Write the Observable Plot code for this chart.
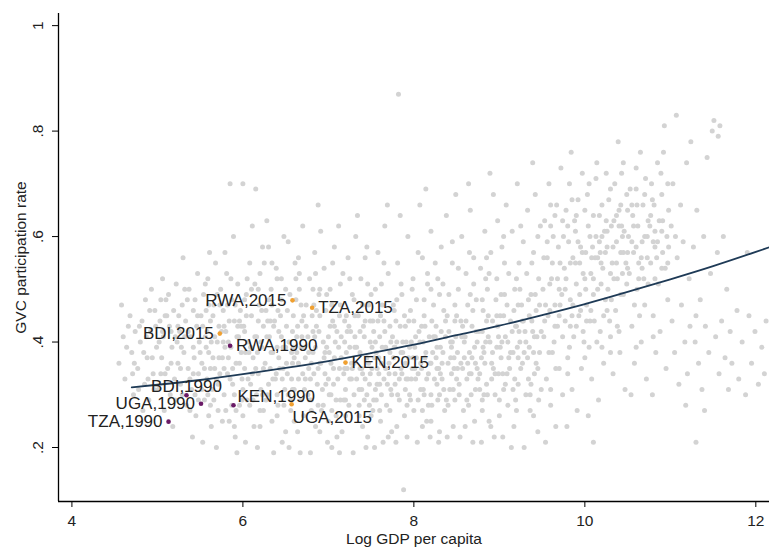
<!DOCTYPE html>
<html>
<head>
<meta charset="utf-8">
<script src="https://cdn.jsdelivr.net/npm/d3@7"></script>
<script src="https://cdn.jsdelivr.net/npm/@observablehq/plot@0.6"></script>
<style>
  html, body { margin: 0; padding: 0; background: #fff; }
  #chart svg { display: block; }
</style>
</head>
<body>
<div id="chart"></div>
<script>
// Axis ticks
const xTicks = [4, 6, 8, 10, 12];
const yTicks = [0.2, 0.4, 0.6, 0.8, 1];

// Background cloud: all country-year observations [log GDP per capita, GVC participation]
const cloud = [
[4.55,.36],[4.6,.41],[4.62,.33],[4.68,.45],[4.7,.38],[4.72,.30],[4.74,.42],[4.58,.47],
[4.77,.35],[4.8,.40],[4.82,.44],[4.85,.32],[4.86,.48],[4.88,.37],[4.9,.29],[4.92,.42],[4.95,.34],[4.97,.46],[4.99,.39],[4.83,.27],[4.93,.50],
[5.01,.31],[5.03,.44],[5.05,.37],[5.07,.41],[5.08,.27],[5.1,.48],[5.12,.35],[5.14,.43],[5.15,.30],[5.17,.39],[5.19,.46],[5.2,.33],[5.22,.51],[5.23,.40],[5.24,.36],[5.06,.52],[5.18,.24],[5.11,.45],
[5.26,.42],[5.27,.32],[5.29,.47],[5.3,.56],[5.31,.38],[5.33,.44],[5.34,.28],[5.36,.35],[5.37,.50],[5.39,.41],[5.4,.31],[5.42,.46],[5.43,.37],[5.45,.26],[5.46,.43],[5.47,.53],[5.48,.34],[5.49,.40],[5.28,.39],[5.41,.22],[5.35,.48],[5.44,.30],
[5.51,.45],[5.52,.36],[5.54,.49],[5.55,.29],[5.56,.41],[5.58,.33],[5.59,.52],[5.6,.38],[5.62,.44],[5.63,.24],[5.64,.31],[5.66,.47],[5.67,.35],[5.68,.55],[5.7,.40],[5.71,.27],[5.72,.43],[5.73,.34],[5.74,.50],[5.53,.21],[5.61,.57],[5.69,.20],[5.57,.39],[5.65,.37],
[5.76,.37],[5.77,.46],[5.78,.30],[5.8,.42],[5.81,.53],[5.82,.34],[5.84,.25],[5.85,.70],[5.86,.39],[5.87,.48],[5.88,.32],[5.9,.44],[5.91,.22],[5.92,.36],[5.94,.51],[5.95,.41],[5.96,.28],[5.97,.46],[5.99,.33],[5.79,.57],[5.89,.60],[5.98,.38],[5.83,.40],[5.93,.19],
[6.0,.70],[6.01,.43],[6.02,.35],[6.04,.49],[6.05,.29],[6.06,.40],[6.08,.55],[6.09,.32],[6.1,.45],[6.12,.37],[6.13,.24],[6.14,.51],[6.15,.69],[6.16,.41],[6.18,.34],[6.19,.47],[6.2,.27],[6.22,.39],[6.23,.58],[6.24,.43],[6.03,.21],[6.11,.62],[6.17,.20],[6.21,.31],[6.07,.38],[6.2,.53],
[6.26,.36],[6.27,.46],[6.29,.30],[6.3,.58],[6.31,.41],[6.33,.50],[6.34,.25],[6.35,.38],[6.37,.44],[6.38,.33],[6.39,.54],[6.41,.28],[6.42,.42],[6.43,.35],[6.45,.48],[6.46,.21],[6.47,.39],[6.48,.60],[6.49,.31],[6.28,.63],[6.36,.19],[6.44,.45],[6.32,.35],[6.4,.52],
[6.51,.43],[6.52,.34],[6.53,.59],[6.55,.49],[6.56,.27],[6.57,.38],[6.59,.45],[6.6,.31],[6.61,.55],[6.63,.41],[6.64,.23],[6.65,.36],[6.66,.50],[6.68,.29],[6.69,.44],[6.7,.62],[6.72,.39],[6.73,.33],[6.74,.47],[6.54,.20],[6.62,.52],[6.67,.19],[6.58,.42],[6.71,.26],[6.6,.37],
[6.76,.41],[6.77,.35],[6.78,.52],[6.8,.29],[6.81,.45],[6.82,.38],[6.84,.57],[6.85,.24],[6.86,.43],[6.87,.32],[6.89,.49],[6.9,.36],[6.91,.61],[6.92,.27],[6.94,.40],[6.95,.54],[6.96,.34],[6.97,.46],[6.99,.21],[6.79,.19],[6.88,.66],[6.93,.31],[6.83,.47],[6.98,.39],[6.8,.36],
[7.01,.38],[7.02,.50],[7.03,.30],[7.05,.44],[7.06,.35],[7.07,.58],[7.09,.26],[7.1,.42],[7.11,.33],[7.12,.62],[7.14,.47],[7.15,.37],[7.16,.23],[7.17,.53],[7.19,.40],[7.2,.31],[7.21,.45],[7.22,.35],[7.24,.28],[7.04,.20],[7.13,.19],[7.23,.56],[7.08,.40],[7.18,.34],[7.14,.29],[7.0,.33],
[7.26,.42],[7.27,.36],[7.28,.49],[7.3,.30],[7.31,.39],[7.32,.60],[7.33,.33],[7.35,.45],[7.36,.26],[7.37,.38],[7.38,.52],[7.4,.34],[7.41,.43],[7.42,.29],[7.43,.56],[7.45,.37],[7.46,.22],[7.47,.47],[7.48,.32],[7.49,.40],[7.29,.19],[7.34,.64],[7.44,.20],[7.39,.31],[7.28,.35],[7.47,.36],
[7.51,.35],[7.52,.44],[7.53,.29],[7.55,.50],[7.56,.38],[7.57,.32],[7.58,.57],[7.6,.41],[7.61,.25],[7.62,.36],[7.63,.47],[7.65,.33],[7.66,.62],[7.67,.39],[7.68,.28],[7.7,.53],[7.71,.36],[7.72,.43],[7.73,.31],[7.74,.23],[7.54,.20],[7.64,.21],[7.69,.66],[7.59,.34],[7.72,.38],[7.62,.30],[7.55,.40],
[7.76,.37],[7.77,.46],[7.78,.32],[7.8,.40],[7.81,.55],[7.82,.87],[7.83,.29],[7.85,.35],[7.86,.49],[7.87,.38],[7.88,.12],[7.89,.26],[7.9,.43],[7.91,.33],[7.93,.60],[7.94,.37],[7.95,.30],[7.96,.46],[7.98,.35],[7.99,.52],[7.79,.21],[7.92,.22],[7.84,.64],[7.97,.40],[7.86,.34],[7.78,.39],[7.9,.31],
[8.01,.39],[8.02,.33],[8.03,.48],[8.05,.29],[8.06,.42],[8.07,.66],[8.08,.36],[8.1,.56],[8.11,.31],[8.12,.45],[8.13,.37],[8.15,.25],[8.16,.51],[8.17,.34],[8.18,.41],[8.2,.61],[8.21,.28],[8.22,.38],[8.23,.47],[8.24,.33],[8.04,.21],[8.14,.69],[8.19,.22],[8.09,.35],[8.2,.36],[8.0,.44],[8.12,.30],
[8.26,.43],[8.27,.35],[8.28,.52],[8.3,.30],[8.31,.39],[8.32,.58],[8.33,.33],[8.35,.46],[8.36,.27],[8.37,.41],[8.38,.64],[8.4,.36],[8.41,.49],[8.42,.31],[8.43,.40],[8.45,.55],[8.46,.24],[8.47,.37],[8.48,.44],[8.49,.68],[8.29,.21],[8.39,.22],[8.44,.34],[8.34,.38],[8.27,.32],[8.48,.29],
[8.51,.38],[8.52,.50],[8.53,.32],[8.55,.44],[8.56,.60],[8.57,.35],[8.58,.27],[8.6,.41],[8.61,.53],[8.62,.33],[8.63,.47],[8.65,.38],[8.66,.65],[8.67,.30],[8.68,.43],[8.7,.56],[8.71,.25],[8.72,.36],[8.73,.48],[8.74,.40],[8.54,.22],[8.64,.70],[8.69,.21],[8.59,.37],[8.72,.31],[8.5,.45],
[8.76,.42],[8.77,.34],[8.78,.54],[8.8,.29],[8.81,.46],[8.82,.38],[8.83,.61],[8.85,.32],[8.86,.50],[8.87,.41],[8.88,.25],[8.9,.57],[8.91,.36],[8.92,.44],[8.93,.68],[8.95,.30],[8.96,.48],[8.97,.39],[8.98,.63],[8.99,.34],[8.79,.21],[8.89,.72],[8.94,.22],[8.84,.40],[8.97,.52],
[9.01,.45],[9.02,.37],[9.03,.58],[9.05,.31],[9.06,.49],[9.07,.41],[9.08,.66],[9.1,.28],[9.11,.53],[9.12,.35],[9.13,.44],[9.15,.61],[9.16,.38],[9.17,.24],[9.18,.50],[9.2,.43],[9.21,.70],[9.22,.32],[9.23,.55],[9.24,.40],[9.04,.22],[9.14,.20],[9.19,.29],[9.09,.47],[9.22,.47],
[9.26,.47],[9.27,.36],[9.28,.59],[9.3,.42],[9.31,.30],[9.32,.53],[9.33,.65],[9.35,.39],[9.36,.27],[9.37,.49],[9.38,.44],[9.4,.57],[9.41,.34],[9.42,.68],[9.43,.46],[9.45,.23],[9.46,.52],[9.47,.38],[9.48,.62],[9.49,.31],[9.29,.20],[9.39,.74],[9.44,.41],[9.34,.48],
[9.51,.50],[9.52,.41],[9.53,.63],[9.55,.33],[9.56,.56],[9.57,.45],[9.58,.70],[9.6,.28],[9.61,.52],[9.62,.38],[9.63,.60],[9.65,.47],[9.66,.24],[9.67,.66],[9.68,.43],[9.7,.35],[9.71,.55],[9.72,.73],[9.73,.49],[9.74,.30],[9.54,.21],[9.64,.40],[9.69,.58],[9.59,.46],
[9.76,.54],[9.77,.44],[9.78,.65],[9.8,.37],[9.81,.59],[9.82,.70],[9.83,.48],[9.85,.31],[9.86,.56],[9.87,.41],[9.88,.63],[9.9,.51],[9.91,.27],[9.92,.67],[9.93,.45],[9.95,.58],[9.96,.35],[9.97,.72],[9.98,.53],[9.99,.40],[9.79,.24],[9.89,.61],[9.94,.49],[9.84,.76],
[10.01,.57],[10.02,.47],[10.03,.68],[10.05,.39],[10.06,.60],[10.07,.53],[10.08,.33],[10.1,.64],[10.11,.44],[10.12,.56],[10.13,.71],[10.15,.50],[10.16,.29],[10.17,.59],[10.18,.42],[10.2,.66],[10.21,.54],[10.22,.36],[10.23,.61],[10.24,.48],[10.04,.26],[10.14,.74],[10.19,.55],[10.09,.58],[10.1,.21],
[10.26,.58],[10.27,.50],[10.28,.67],[10.3,.41],[10.31,.62],[10.32,.55],[10.33,.34],[10.35,.70],[10.36,.46],[10.37,.59],[10.38,.52],[10.4,.65],[10.41,.38],[10.42,.57],[10.43,.72],[10.45,.49],[10.46,.61],[10.47,.31],[10.48,.55],[10.49,.68],[10.29,.44],[10.39,.78],[10.44,.53],[10.34,.63],
[10.51,.60],[10.52,.53],[10.53,.69],[10.55,.43],[10.56,.64],[10.57,.57],[10.58,.36],[10.6,.73],[10.61,.50],[10.62,.62],[10.63,.55],[10.65,.76],[10.66,.40],[10.67,.59],[10.68,.66],[10.7,.47],[10.71,.71],[10.72,.33],[10.73,.56],[10.74,.63],[10.54,.30],[10.64,.45],[10.69,.52],
[10.76,.62],[10.77,.55],[10.78,.70],[10.8,.45],[10.81,.66],[10.82,.58],[10.83,.38],[10.85,.74],[10.86,.51],[10.87,.63],[10.88,.42],[10.9,.68],[10.91,.57],[10.92,.76],[10.93,.81],[10.95,.35],[10.96,.60],[10.97,.48],[10.98,.65],[10.79,.30],[10.89,.72],[10.94,.54],
[11.01,.62],[11.02,.44],[11.03,.70],[11.05,.38],[11.07,.83],[11.08,.56],[11.1,.32],[11.12,.66],[11.13,.47],[11.15,.59],[11.17,.40],[11.19,.74],[11.2,.34],[11.22,.52],[11.24,.78],[11.06,.60],[11.18,.28],[11.23,.43],
[11.27,.58],[11.29,.40],[11.31,.65],[11.33,.36],[11.35,.48],[11.37,.31],[11.39,.60],[11.41,.43],[11.43,.75],[11.45,.38],[11.47,.53],[11.49,.80],[11.3,.45],[11.3,.21],[11.4,.27],
[11.51,.82],[11.53,.41],[11.55,.57],[11.57,.34],[11.58,.81],[11.6,.44],[11.62,.60],[11.64,.37],[11.66,.50],[11.68,.31],[11.7,.42],[11.72,.36],[11.56,.79],
[11.78,.46],[11.8,.33],[11.84,.40],[11.88,.30],[11.92,.45],[11.95,.36],[11.99,.42],[12.03,.32],[12.07,.39],[12.1,.34],[12.12,.44],[11.9,.57],
[5.52,.31],[5.58,.42],[5.66,.29],[5.72,.37],[5.78,.35],[5.84,.44],[5.9,.30],[5.96,.36],[6.02,.42],[6.06,.33],[6.12,.29],[6.18,.44],[6.24,.35],[6.3,.32],[6.36,.43],[6.42,.37],[6.48,.28],[6.54,.40],[6.58,.31],[6.64,.43],[6.7,.34],[6.76,.30],[6.82,.42],[6.88,.35],[6.94,.28],[7.0,.41],[7.06,.32],[7.12,.39],[7.18,.29],[7.24,.43],[7.3,.36],[7.36,.31],[7.42,.41],[7.48,.28],[7.54,.37],[7.6,.32],[7.66,.42],[7.72,.27],[7.78,.34],[7.84,.43],[7.9,.36],[7.96,.29],[8.02,.41],[8.08,.31],[8.14,.38],[8.2,.30],[8.26,.37],[8.32,.42],[8.38,.29],[8.44,.39],[8.5,.33],[8.56,.41],[8.62,.29],[8.68,.37],[8.74,.35],[8.8,.42],[8.86,.30],[8.92,.38],[8.98,.43],[9.04,.34],[9.1,.40],[9.16,.31],[9.22,.37],[9.28,.44],[9.34,.33],[9.4,.38],[9.46,.29],
[5.55,.35],[5.63,.40],[5.69,.33],[5.75,.42],[5.83,.37],[5.87,.28],[5.93,.41],[6.0,.31],[6.09,.39],[6.15,.35],[6.21,.40],[6.27,.29],[6.33,.38],[6.39,.34],[6.45,.41],[6.51,.36],[6.57,.33],[6.63,.38],[6.69,.41],[6.73,.37],[6.79,.33],[6.85,.39],[6.91,.36],[6.97,.32],[7.03,.36],[7.09,.29],[7.15,.41],[7.21,.38],[7.27,.33],[7.33,.39],[7.39,.35],[7.45,.30],[7.51,.39],[7.57,.35],[7.63,.39],[7.69,.32],[7.75,.41],[7.81,.30],[7.87,.40],[7.93,.33],[7.99,.37],[8.05,.34],[8.11,.40],[8.17,.28],[8.23,.41],[8.29,.35],[8.35,.31],[8.41,.42],[8.47,.35],[8.53,.30],[8.59,.40],[8.65,.34],[8.71,.39],[8.77,.31],[8.83,.36],[8.89,.40],[8.95,.34],[9.01,.39],[9.07,.32],[9.13,.38],[9.19,.43],[9.25,.35],[9.31,.40],[9.37,.32],[9.43,.36],[9.49,.42],
[9.52,.56],[9.6,.62],[9.68,.52],[9.75,.60],[9.83,.55],[9.9,.64],[9.97,.57],[10.04,.62],[10.1,.52],[10.17,.64],[10.24,.57],[10.3,.53],[10.37,.64],[10.44,.60],[10.5,.57],[10.57,.62],[10.63,.52],[10.7,.60],[10.77,.64],[10.84,.56],[10.9,.61],[10.97,.55],[10.15,.56],[10.33,.58],[10.55,.66],[10.82,.52],[9.7,.50],[9.85,.45],[10.0,.52],[10.45,.57],
[4.64,.39],[4.71,.34],[4.79,.43],[4.84,.38],[4.91,.46],[4.96,.31],[5.02,.40],[5.09,.34],[5.13,.49],[5.16,.42],[5.21,.29],[5.25,.45],[5.32,.41],[5.38,.33],[5.44,.48],[5.5,.38],[5.57,.46],[5.62,.35],[5.67,.41],[5.73,.47],[5.79,.39],[5.85,.33],[5.91,.47],[5.98,.43],[6.03,.38],[6.1,.50],[6.16,.30],[6.22,.46],[6.28,.41],[6.34,.47],[6.4,.39],[6.46,.33],[6.52,.46],[6.58,.36],[6.62,.48],[6.68,.39],[6.74,.43],[6.78,.29],[6.84,.41],[6.9,.45],[6.96,.38],[7.02,.43],[7.07,.37],[7.13,.45],[7.19,.35],[7.25,.39],[7.31,.45],[7.37,.42],[7.43,.33],[7.49,.44],[7.55,.31],[7.61,.45],[7.67,.35],[7.73,.40],[7.79,.44],[7.85,.38],[7.91,.40],[7.97,.33],[8.03,.37],[8.09,.43],[8.15,.33],[8.21,.44],[8.27,.39],[8.33,.36],[8.39,.45],[8.45,.40],[8.51,.35],[8.57,.43],[8.63,.36],[8.69,.46],[8.75,.33],[8.81,.39],[8.87,.45],[8.93,.35],[8.99,.41],[9.05,.45],[9.11,.37],[9.17,.46],[9.23,.42],[9.29,.38],[9.35,.45],[9.41,.41],[9.47,.47],[9.53,.44],[9.59,.51],[9.65,.43],[9.71,.47],[9.77,.50],[9.83,.43],[9.89,.55],[9.95,.46],[10.01,.50],[10.07,.46],[10.13,.60],[10.19,.51],[10.25,.63],[10.31,.48],[10.37,.55],[10.43,.62],[10.49,.51],[10.55,.59],[10.61,.66],[10.67,.54],[10.73,.60],[10.79,.67],[10.85,.59],[10.91,.63],[10.97,.70],[10.6,.58],[10.42,.66],[10.26,.61],[10.08,.56],[9.92,.59],[9.74,.63],[9.56,.59],[9.38,.55],[9.2,.52],[9.02,.49],[8.84,.52],[8.66,.49],[8.48,.47],[8.3,.49],[8.12,.48],[7.94,.44],[7.76,.47],[7.58,.44],[7.4,.47],[7.22,.42],[7.04,.47],[6.86,.46],[6.68,.47],[6.5,.39],[6.32,.44],[6.14,.41],[5.96,.44],[5.78,.43],[5.6,.47],[5.42,.39],[5.24,.43],[5.06,.42],
[5.6,.26],[5.8,.27],[6.0,.26],[6.2,.24],[6.4,.26],[6.6,.25],[6.8,.27],[7.0,.25],[7.2,.26],[7.4,.24],[7.6,.27],[7.8,.24],[8.0,.27],[8.2,.25],[8.4,.28],[8.6,.24],[8.8,.27],[9.0,.26],[9.2,.27],[9.4,.26],[9.6,.31],[9.8,.34],[10.0,.37],[10.2,.39],[10.4,.42],[10.6,.39],[10.8,.41],[6.5,.23],[7.1,.22],[7.7,.22],[8.3,.23],[8.9,.24],[5.9,.24],[6.9,.23],[7.5,.26],[8.1,.24],
[6.05,.52],[6.25,.55],[6.45,.52],[6.65,.56],[6.85,.53],[7.05,.55],[7.25,.52],[7.45,.58],[7.65,.55],[7.85,.51],[8.05,.57],[8.25,.55],[8.45,.59],[8.65,.57],[8.85,.56],[9.05,.60],[9.25,.62],[9.45,.60],[9.65,.64],[9.85,.67],[10.05,.70],[10.25,.72],[10.45,.74],[7.5,.49],[8.2,.50],[8.8,.48],[6.9,.50],[6.3,.48],
[4.66,.43],[4.73,.36],[4.78,.31],[4.87,.41],[4.94,.37],[4.98,.43],[5.04,.34],[5.09,.45],[5.16,.36],[5.21,.41],[5.27,.35],[5.32,.50],[5.36,.42],[5.42,.34],[5.47,.45],[5.04,.48],[5.29,.30],[5.38,.27],[5.48,.29],[4.89,.33],
[5.53,.43],[5.59,.30],[5.65,.45],[5.71,.32],[5.77,.40],[5.82,.47],[5.88,.35],[5.94,.43],[5.99,.29],[6.04,.45],[6.11,.34],[6.17,.38],[6.23,.30],[6.29,.44],[6.35,.33],[6.41,.46],[6.47,.35],[6.53,.30],[6.59,.39],[6.65,.33],[6.71,.45],[6.77,.38],[6.83,.34],[6.89,.42],[6.95,.37],[7.01,.30],[7.07,.43],[7.13,.35],[7.19,.44],[7.25,.33],[7.31,.41],[7.37,.35],[7.43,.44],[7.49,.34],
[5.56,.51],[5.7,.49],[5.86,.52],[6.02,.48],[6.18,.50],[6.34,.55],[6.5,.50],[6.66,.53],[6.82,.50],[6.98,.49],[7.14,.51],[7.3,.48],[7.46,.51],
[5.62,.28],[5.76,.25],[5.92,.27],[6.08,.28],[6.24,.27],[6.4,.30],[6.56,.29],[6.72,.31],[6.88,.28],[7.04,.27],[7.2,.29],[7.36,.28],[7.52,.27],
[7.53,.42],[7.59,.37],[7.65,.44],[7.71,.34],[7.77,.39],[7.83,.33],[7.89,.45],[7.95,.39],[8.01,.35],[8.07,.40],[8.13,.43],[8.19,.36],[8.25,.41],[8.31,.34],[8.37,.44],[8.43,.37],[8.49,.41],[8.55,.36],[8.61,.44],[8.67,.34],[8.73,.42],[8.79,.37],[8.85,.44],[8.91,.33],[8.97,.45],[9.03,.40],[9.09,.34],[9.15,.42],[9.21,.39],[9.27,.44],[9.33,.37],[9.39,.42],[9.45,.35],
[7.62,.51],[7.8,.48],[7.98,.50],[8.16,.53],[8.34,.51],[8.52,.54],[8.7,.51],[8.88,.53],[9.06,.55],[9.24,.50],[9.42,.49],
[7.56,.29],[7.74,.30],[7.92,.28],[8.1,.27],[8.28,.29],[8.46,.31],[8.64,.28],[8.82,.30],[9.0,.29],[9.18,.33],[9.36,.30],
[9.54,.47],[9.62,.55],[9.7,.45],[9.78,.52],[9.86,.47],[9.94,.55],[10.02,.44],[10.1,.49],[10.18,.57],[10.26,.46],[10.34,.52],[10.42,.49],[10.5,.54],[10.58,.47],[10.66,.56],[10.74,.51],[10.82,.61],[10.9,.54],[10.98,.58],
[9.58,.38],[9.66,.35],[9.74,.41],[9.82,.39],[9.9,.43],[9.98,.42],[10.06,.44],[10.14,.40],[10.22,.45],[10.3,.38],[10.38,.43],
[9.6,.66],[9.8,.62],[10.0,.65],[10.2,.60],[10.4,.62],[10.6,.69],[10.8,.59],[10.7,.68],[10.5,.65],[10.3,.69]
];

// Fitted curve
const fitX = [4.7, 5.0, 5.5, 6.0, 6.5, 7.0, 7.5, 8.0, 8.5, 9.0, 9.5, 10.0, 10.5, 11.0, 11.5, 12.0, 12.2];
const fitY = [0.314, 0.319, 0.328, 0.339, 0.351, 0.364, 0.379, 0.395, 0.413, 0.431, 0.451, 0.472, 0.495, 0.519, 0.544, 0.571, 0.582];

// Highlighted East African countries
const hlLabel = ["RWA,2015", "TZA,2015", "BDI,2015", "RWA,1990", "KEN,2015", "BDI,1990", "UGA,1990", "KEN,1990", "UGA,2015", "TZA,1990"];
const hlX     = [6.58, 6.81, 5.73, 5.85, 7.20, 5.34, 5.51, 5.89, 6.57, 5.13];
const hlY     = [0.479, 0.465, 0.416, 0.393, 0.361, 0.299, 0.283, 0.280, 0.282, 0.249];
const hlYear  = [2015, 2015, 2015, 1990, 2015, 1990, 1990, 1990, 2015, 1990];
const hlPos   = ["left", "right", "left", "right", "right", "above", "left", "upright", "downright", "left"];

const cloudData = cloud.map(([x, y]) => ({x, y}));
const fitData = fitX.map((x, i) => ({x, y: fitY[i]}));
const hl = hlLabel.map((label, i) => ({label, x: hlX[i], y: hlY[i], year: hlYear[i], pos: hlPos[i]}));

const xMin = 3.843, xMax = 12.16, yMin = 0.0976, yMax = 1.023;
const font = "'Liberation Sans', Arial, Helvetica, sans-serif";

const labelText = (pos, opts) => Plot.text(hl.filter(d => d.pos === pos), {x: "x", y: "y", text: "label", fill: "#222", fontSize: 17, ...opts});

const chart = Plot.plot({
  width: 769,
  height: 547,
  marginLeft: 58,
  marginRight: 0,
  marginTop: 13,
  marginBottom: 46,
  style: {fontFamily: font, background: "#fff", color: "#222"},
  x: {domain: [xMin, xMax]},
  y: {domain: [yMin, yMax]},
  marks: [
    Plot.dot(cloudData, {x: "x", y: "y", r: 2.5, fill: "#d3d3d3", stroke: "none"}),
    Plot.line(fitData, {x: "x", y: "y", stroke: "#1e3a56", strokeWidth: 1.8, curve: "natural"}),
    Plot.dot(hl, {x: "x", y: "y", r: 2.3, fill: d => d.year === 2015 ? "#f0a030" : "#6a1a66", stroke: "none"}),
    labelText("left", {textAnchor: "end", dx: -6}),
    labelText("right", {textAnchor: "start", dx: 6}),
    labelText("above", {textAnchor: "middle", dy: -9}),
    labelText("upright", {textAnchor: "start", dx: 4, dy: -9}),
    labelText("downright", {textAnchor: "start", dx: 1, dy: 13}),
    Plot.ruleX([xMin], {stroke: "#000", strokeWidth: 1.3}),
    Plot.ruleY([yMin], {stroke: "#000", strokeWidth: 1.3}),
    Plot.axisX({ticks: xTicks, tickSize: 6, tickPadding: 7, fontSize: 15.5, stroke: "#000",
      label: "Log GDP per capita", labelAnchor: "center", labelOffset: 42, labelArrow: "none"}),
    Plot.axisY({ticks: yTicks, tickSize: 6, tickPadding: 10, fontSize: 15.5, tickRotate: -90, stroke: "#000",
      tickFormat: d => d === 1 ? "1" : String(d).replace(/^0/, ""),
      label: "GVC participation rate", labelAnchor: "center", labelOffset: 44, labelArrow: "none"})
  ]
});
document.getElementById("chart").append(chart);
</script>
</body>
</html>
